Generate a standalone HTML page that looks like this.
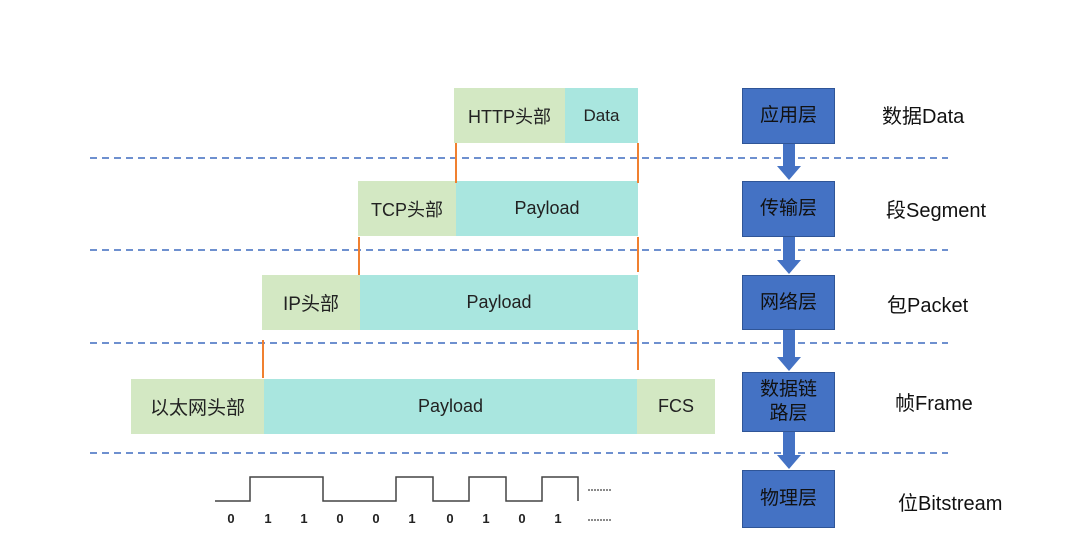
<!DOCTYPE html>
<html><head><meta charset="utf-8"><style>
body{margin:0;background:#fff;}
.w{position:relative;width:1080px;height:560px;overflow:hidden;font-family:"Liberation Sans","Noto Sans CJK SC",sans-serif;}
.b{position:absolute;display:flex;align-items:center;justify-content:center;font-size:18px;color:#222;}
.g{background:#d3e8c3;}
.c{background:#a9e6df;}
.L{position:absolute;left:742px;width:93px;background:#4472c4;border:1px solid #2f5597;box-sizing:border-box;color:#111;font-size:19px;display:flex;align-items:center;justify-content:center;text-align:center;line-height:24px;}
.r{position:absolute;font-size:20px;color:#111;}
.o{position:absolute;width:2px;background:#f08030;}
</style></head><body><div class="w">
<svg width="1080" height="560" style="position:absolute;left:0;top:0">
<g stroke="#3f6bbf" stroke-width="1.4" stroke-dasharray="7,5">
<line x1="90" y1="158" x2="948" y2="158"/><line x1="90" y1="250" x2="948" y2="250"/>
<line x1="90" y1="343" x2="948" y2="343"/><line x1="90" y1="453" x2="948" y2="453"/></g>
<g fill="#4472c4">
<rect x="783" y="144" width="12" height="24"/><polygon points="777,166 801,166 789,180"/>
<rect x="783" y="237" width="12" height="25"/><polygon points="777,260 801,260 789,274"/>
<rect x="783" y="330" width="12" height="29"/><polygon points="777,357 801,357 789,371"/>
<rect x="783" y="432" width="12" height="24"/><polygon points="777,455 801,455 789,469"/>
</g>
<polyline fill="none" stroke="#444" stroke-width="1.5" points="215,501 250,501 250,477 323,477 323,501 396,501 396,477 433,477 433,501 469,501 469,477 506,477 506,501 542,501 542,477 578,477 578,501"/>
<g font-family="Liberation Sans" font-size="13" font-weight="bold" fill="#222" text-anchor="middle">
<text x="231" y="523">0</text><text x="268" y="523">1</text><text x="304" y="523">1</text><text x="340" y="523">0</text><text x="376" y="523">0</text><text x="412" y="523">1</text><text x="450" y="523">0</text><text x="486" y="523">1</text><text x="522" y="523">0</text><text x="558" y="523">1</text></g>
<g stroke="#444" stroke-width="1.2" stroke-dasharray="2,1"><line x1="588" y1="490" x2="612" y2="490"/><line x1="588" y1="520" x2="612" y2="520"/></g>
</svg>
<div class="b g" style="left:454px;top:88px;width:111px;height:55px">HTTP头部</div>
<div class="b c" style="left:565px;top:88px;width:73px;height:55px;font-size:17px">Data</div>
<div class="b g" style="left:358px;top:181px;width:98px;height:55px">TCP头部</div>
<div class="b c" style="left:456px;top:181px;width:182px;height:55px">Payload</div>
<div class="b g" style="left:262px;top:275px;width:98px;height:55px;font-size:19px">IP头部</div>
<div class="b c" style="left:360px;top:275px;width:278px;height:55px">Payload</div>
<div class="b g" style="left:131px;top:379px;width:133px;height:55px;font-size:19px">以太网头部</div>
<div class="b c" style="left:264px;top:379px;width:373px;height:55px">Payload</div>
<div class="b g" style="left:637px;top:379px;width:78px;height:55px">FCS</div>
<div class="o" style="left:455px;top:143px;height:40px"></div>
<div class="o" style="left:637px;top:143px;height:40px"></div>
<div class="o" style="left:358px;top:237px;height:38px"></div>
<div class="o" style="left:637px;top:237px;height:35px"></div>
<div class="o" style="left:262px;top:340px;height:38px"></div>
<div class="o" style="left:637px;top:330px;height:40px"></div>
<div class="L" style="top:88px;height:56px">应用层</div>
<div class="L" style="top:181px;height:56px">传输层</div>
<div class="L" style="top:275px;height:55px">网络层</div>
<div class="L" style="top:372px;height:60px">数据链<br>路层</div>
<div class="L" style="top:470px;height:58px">物理层</div>
<div class="r" style="left:882px;top:100px">数据Data</div>
<div class="r" style="left:886px;top:194px">段Segment</div>
<div class="r" style="left:887px;top:289px">包Packet</div>
<div class="r" style="left:895px;top:387px">帧Frame</div>
<div class="r" style="left:898px;top:487px">位Bitstream</div>
</div></body></html>
